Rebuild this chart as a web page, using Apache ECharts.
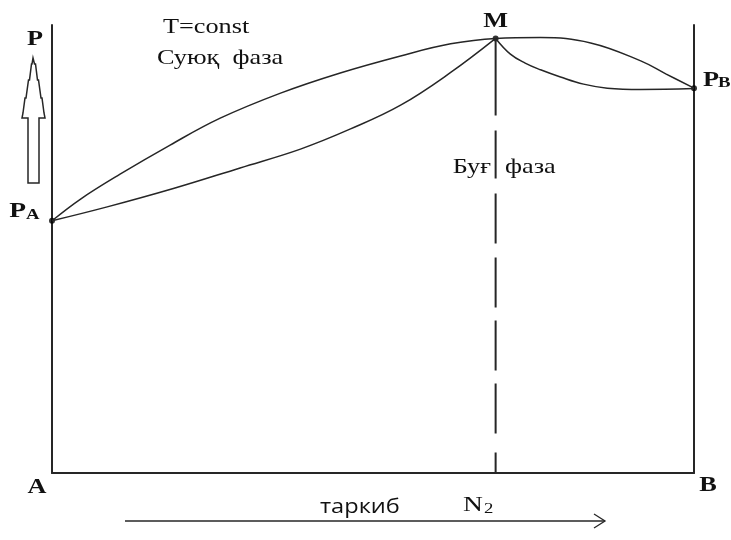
<!DOCTYPE html>
<html>
<head>
<meta charset="utf-8">
<script src="https://cdn.jsdelivr.net/npm/echarts@6/dist/echarts.min.js"></script>
<style>
  html, body { margin: 0; padding: 0; background: #fff; }
  #chart { width: 731px; height: 540px; }
</style>
</head>
<body>
<div id="chart"></div>
<script>
// Isothermal P–composition diagram of a binary mixture with a pressure maximum (azeotrope M).
// x: mole fraction of N2 (0 = pure A, 1 = pure B); y: pressure, relative units.

// Liquid curve (upper), from P_A through M to P_B
const liquidX = [0, 0.044, 0.106, 0.184, 0.262, 0.356, 0.449, 0.543, 0.621, 0.691, 0.761, 0.839, 0.917, 0.956, 1.0];
const liquidP = [56.3, 61.1, 66.7, 73.2, 79.2, 84.8, 89.3, 93.1, 95.8, 97.0, 97.2, 96.0, 92.0, 89.1, 85.9];

// Vapour curve (lower), left branch P_A -> M
const vapourLeftX = [0, 0.086, 0.189, 0.293, 0.387, 0.465, 0.543, 0.621, 0.691];
const vapourLeftP = [56.3, 59.4, 63.5, 68.1, 72.3, 76.8, 82.1, 89.4, 97.0];

// Vapour curve (lower), right branch M -> P_B
const vapourRightX = [0.691, 0.714, 0.737, 0.761, 0.792, 0.828, 0.865, 0.917, 1.0];
const vapourRightP = [97.0, 93.5, 91.5, 90.0, 88.4, 86.8, 85.9, 85.6, 85.8];

// Characteristic points: pure A, azeotrope, pure B
const pointNames = ['PA', 'M', 'PB'];
const pointX = [0, 0.691, 1.0];
const pointP = [56.3, 97.0, 85.9];

const zip = (xs, ys) => xs.map((x, i) => [x, ys[i]]);

const ink = '#262626';
const txt = '#111';
const serif = '"Liberation Serif", "DejaVu Serif", serif';
const sans = '"Open Sans", "Noto Sans", sans-serif';
const stretch = 1.25;

const chart = echarts.init(document.getElementById('chart'), null, { renderer: 'canvas' });

const curveStyle = { color: ink, width: 1.5 };
const hiddenAxisParts = { axisTick: { show: false }, axisLabel: { show: false }, splitLine: { show: false } };

chart.setOption({
  animation: false,
  backgroundColor: '#fff',
  grid: { left: 52, right: 37, top: 25, bottom: 67 },
  xAxis: Object.assign({
    type: 'value', min: 0, max: 1,
    axisLine: { show: true, onZero: false, lineStyle: { color: ink, width: 2 } }
  }, hiddenAxisParts),
  yAxis: [
    Object.assign({
      type: 'value', min: 0, max: 100, position: 'left',
      axisLine: { show: true, onZero: false, lineStyle: { color: ink, width: 2 } }
    }, hiddenAxisParts),
    Object.assign({
      type: 'value', min: 0, max: 100, position: 'right',
      axisLine: { show: true, onZero: false, lineStyle: { color: ink, width: 2 } }
    }, hiddenAxisParts)
  ],
  series: [
    {
      name: 'liquid', type: 'line', data: zip(liquidX, liquidP),
      smooth: 0.4, showSymbol: false, lineStyle: curveStyle
    },
    {
      name: 'vapourLeft', type: 'line', data: zip(vapourLeftX, vapourLeftP),
      smooth: 0.4, showSymbol: false, lineStyle: curveStyle
    },
    {
      name: 'vapourRight', type: 'line', data: zip(vapourRightX, vapourRightP),
      smooth: 0.4, showSymbol: false, lineStyle: curveStyle
    },
    {
      // vertical through the azeotrope down to the composition axis
      name: 'azeotrope', type: 'line',
      data: [[pointX[1], pointP[1]], [pointX[1], 0]],
      showSymbol: false,
      lineStyle: { color: ink, width: 2, type: [77, 15, 48, 15, 50, 14, 50, 13, 50, 13, 50, 19, 60], cap: 'butt' }
    },
    {
      name: 'points', type: 'scatter',
      data: zip(pointX, pointP),
      symbolSize: 6,
      itemStyle: { color: '#000' }
    }
  ]
});

// Labels placed relative to the characteristic points
const at = (i) => chart.convertToPixel({ gridIndex: 0 }, [pointX[i], pointP[i]]);
const pA = at(0), pM = at(1), pB = at(2);

function label(x, y, text, size, opts) {
  opts = opts || {};
  return {
    type: 'text', x: x, y: y,
    scaleX: opts.scaleX || stretch,
    style: {
      text: text,
      font: (opts.weight || 'normal') + ' ' + size + 'px ' + (opts.family || serif),
      fill: txt,
      align: opts.align || 'left',
      verticalAlign: 'middle'
    }
  };
}

chart.setOption({
  graphic: [
    // pressure direction arrow (hollow)
    {
      type: 'polygon',
      shape: {
        points: [
          [33, 58], [34.5, 64], [35.5, 64], [37.5, 80], [38.5, 80], [41, 98], [42, 98], [44, 113], [45, 118],
          [39, 118], [39, 183], [28, 183], [28, 118],
          [22, 118], [23, 113], [25, 98], [26, 98], [28.5, 80], [29.5, 80], [31.5, 64], [32, 64]
        ]
      },
      style: { fill: '#fff', stroke: ink, lineWidth: 1.5 }
    },
    // composition direction arrow
    { type: 'line', shape: { x1: 125, y1: 521, x2: 605, y2: 521 }, style: { stroke: ink, lineWidth: 1.3 } },
    { type: 'polyline', shape: { points: [[594, 514], [605, 521], [594, 528]] }, style: { stroke: ink, lineWidth: 1.3, fill: null } },

    label(35, 40, 'P', 21, { weight: 'bold', align: 'center' }),
    label(163, 27, 'T=const', 21),
    label(157, 58, 'Суюқ  фаза', 21),
    label(491, 167, 'Буғ', 21, { align: 'right' }),
    label(505, 167, 'фаза', 21),
    label(37, 488, 'A', 21, { weight: 'bold', align: 'center' }),
    label(708, 486, 'B', 21, { weight: 'bold', align: 'center' }),
    label(320, 507, 'таркиб', 20, { family: sans, scaleX: 1.18 }),
    label(463, 505, 'N', 22),
    label(484, 509, '2', 15),

    // point labels
    label(pM[0], pM[1] - 17, 'M', 21, { weight: 'bold', align: 'center' }),
    label(pA[0] - 26, pA[1] - 9, 'P', 22, { weight: 'bold', align: 'right' }),
    label(pA[0] - 26, pA[1] - 6, 'A', 15, { weight: 'bold' }),
    label(pB[0] + 9, pB[1] - 8, 'P', 21, { weight: 'bold' }),
    label(pB[0] + 24, pB[1] - 5, 'B', 15, { weight: 'bold' })
  ]
});
</script>
</body>
</html>
